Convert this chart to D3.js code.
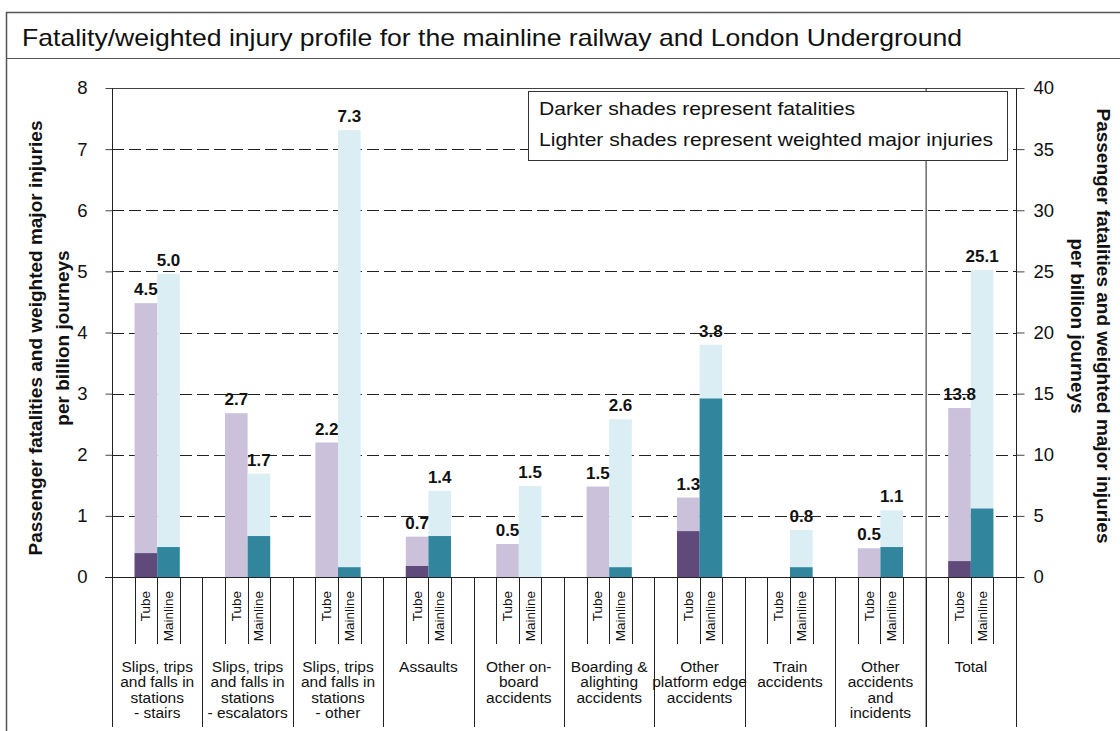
<!DOCTYPE html>
<html><head><meta charset="utf-8">
<script src="https://cdn.jsdelivr.net/npm/d3@7"></script>
<style>body{margin:0;background:#fff}svg{display:block;font-family:"Liberation Sans",Arial,sans-serif}</style>
</head><body><svg id="c" width="1120" height="731"></svg>
<script>
const title = "Fatality/weighted injury profile for the mainline railway and London Underground";
const categories = [
  ["Slips, trips","and falls in","stations","- stairs"],
  ["Slips, trips","and falls in","stations","- escalators"],
  ["Slips, trips","and falls in","stations","- other"],
  ["Assaults"],
  ["Other on-","board","accidents"],
  ["Boarding &","alighting","accidents"],
  ["Other","platform edge","accidents"],
  ["Train","accidents"],
  ["Other","accidents","and","incidents"],
  ["Total"]
];
const modes = ["Tube","Mainline"];
// totals (fatalities + weighted major injuries); Total group is on the right axis
const tubeTotal = [4.48, 2.68, 2.2, 0.66, 0.54, 1.48, 1.3, 0, 0.47, 13.82];
const tubeFatal = [0.39, 0, 0, 0.18, 0, 0, 0.75, 0, 0, 1.3];
const mainTotal = [4.96, 1.69, 7.31, 1.41, 1.49, 2.58, 3.8, 0.77, 1.09, 25.1];
const mainFatal = [0.49, 0.67, 0.16, 0.67, 0, 0.16, 2.92, 0.16, 0.49, 5.6];
const leftTicks = [0,1,2,3,4,5,6,7,8];
const rightTicks = [0,5,10,15,20,25,30,35,40];
const legendLines = ["Darker shades represent fatalities","Lighter shades represent weighted major injuries"];
const yTitleLines = ["Passenger fatalities and weighted major injuries","per billion journeys"];

const colors = {Tube:{dark:"#604a7b",light:"#ccc1da"}, Mainline:{dark:"#31859c",light:"#daeef3"}};

const svg = d3.select("#c");
const L = 112, R = 1016, T = 88, B = 577;
const yL = d3.scaleLinear().domain([0,8]).range([B,T]);
const yR = d3.scaleLinear().domain([0,40]).range([B,T]);
const gIdx = d3.range(categories.length);
const x0 = d3.scaleBand().domain(gIdx).range([L,R]).padding(0);
const x1 = d3.scaleBand().domain(modes).range([0,x0.bandwidth()]).paddingInner(0).paddingOuter(1);

// frame
svg.append("line").attr("x1",6).attr("x2",1120).attr("y1",12.5).attr("y2",12.5).attr("stroke","#555").attr("stroke-width",1.5);
svg.append("line").attr("x1",6).attr("x2",1120).attr("y1",58.5).attr("y2",58.5).attr("stroke","#555").attr("stroke-width",1);
svg.append("line").attr("x1",6.5).attr("x2",6.5).attr("y1",12).attr("y2",731).attr("stroke","#555").attr("stroke-width",1.5);
svg.append("text").attr("x",22).attr("y",46).attr("font-size",24).attr("fill","#111")
  .attr("textLength",940).attr("lengthAdjust","spacingAndGlyphs").text(title);

// gridlines
svg.append("g").selectAll("line").data(leftTicks.filter(d=>d>0 && d<8)).join("line")
  .attr("x1",L).attr("x2",R).attr("y1",d=>Math.round(yL(d))+0.5).attr("y2",d=>Math.round(yL(d))+0.5)
  .attr("stroke","#222").attr("stroke-dasharray","12,5");
svg.append("line").attr("x1",L).attr("x2",R).attr("y1",T+0.5).attr("y2",T+0.5).attr("stroke","#444");

// axes
const axL = svg.append("g").attr("transform",`translate(${L+0.5},0)`)
  .call(d3.axisLeft(yL).tickValues(leftTicks).tickSize(7).tickPadding(18).tickFormat(d3.format("d")));
const axR = svg.append("g").attr("transform",`translate(${R+0.5},0)`)
  .call(d3.axisRight(yR).tickValues(rightTicks).tickSize(8).tickPadding(9).tickFormat(d3.format("d")));
[axL,axR].forEach(a=>{
  a.select(".domain").remove();
  a.selectAll("line").attr("stroke","#444");
  a.selectAll("text").attr("font-size",18.5).attr("fill","#111").attr("font-family","Liberation Sans, Arial, sans-serif");
});

// bars
const barData = [];
gIdx.forEach(i=>{
  const ys = i===categories.length-1 ? yR : yL;
  barData.push({i, mode:"Tube", total:tubeTotal[i], fatal:tubeFatal[i], ys});
  barData.push({i, mode:"Mainline", total:mainTotal[i], fatal:mainFatal[i], ys});
});
const bars = svg.append("g");
bars.selectAll("rect.light").data(barData.filter(d=>d.total>0)).join("rect")
  .attr("x",d=>x0(d.i)+x1(d.mode)).attr("width",x1.bandwidth())
  .attr("y",d=>d.ys(d.total)).attr("height",d=>B-d.ys(d.total))
  .attr("fill",d=>colors[d.mode].light);
bars.selectAll("rect.dark").data(barData.filter(d=>d.fatal>0)).join("rect")
  .attr("x",d=>x0(d.i)+x1(d.mode)).attr("width",x1.bandwidth())
  .attr("y",d=>d.ys(d.fatal)).attr("height",d=>B-d.ys(d.fatal))
  .attr("fill",d=>colors[d.mode].dark);
svg.append("g").selectAll("text").data(barData.filter(d=>d.total>0)).join("text")
  .attr("x",d=>x0(d.i)+x1(d.mode)+x1.bandwidth()/2).attr("y",d=>d.ys(d.total)-8)
  .attr("text-anchor","middle").attr("font-size",17).attr("font-weight","bold").attr("fill","#111")
  .text(d=>d.total.toFixed(1));

// Total separator, axes lines
svg.append("line").attr("x1",x0(9)+0.5).attr("x2",x0(9)+0.5).attr("y1",T).attr("y2",727).attr("stroke","#222");
svg.append("line").attr("x1",L+0.5).attr("x2",L+0.5).attr("y1",T).attr("y2",727).attr("stroke","#222");
svg.append("line").attr("x1",R+0.5).attr("x2",R+0.5).attr("y1",T).attr("y2",727).attr("stroke","#222");
svg.append("line").attr("x1",L-7).attr("x2",R+8).attr("y1",B+0.5).attr("y2",B+0.5).attr("stroke","#222");

// x axis structure
const xg = svg.append("g");
gIdx.forEach(i=>{
  const gx = x0(i);
  xg.append("line").attr("x1",Math.round(gx)+0.5).attr("x2",Math.round(gx)+0.5).attr("y1",B).attr("y2",727).attr("stroke","#222");
  [x1("Tube"), x1("Mainline"), x1("Mainline")+x1.bandwidth()].forEach(o=>{
    const xx = Math.round(gx+o)+0.5;
    xg.append("line").attr("x1",xx).attr("x2",xx).attr("y1",B).attr("y2",644).attr("stroke","#222");
  });
  modes.forEach(m=>{
    const cx = gx + x1(m) + x1.bandwidth()/2;
    xg.append("text").attr("transform",`translate(${cx},591) rotate(-90)`)
      .attr("text-anchor","end").attr("dominant-baseline","central").attr("font-size",13.5).attr("fill","#111").text(m);
  });
  const t = xg.append("text").attr("text-anchor","middle").attr("font-size",15.5).attr("fill","#111");
  categories[i].forEach((ln,k)=>{
    t.append("tspan").attr("x",gx+x0.bandwidth()/2).attr("y",672+k*15.3).text(ln);
  });
});

// legend
const lg = svg.append("g");
lg.append("rect").attr("x",528.5).attr("y",91.5).attr("width",479).attr("height",69).attr("fill","#fff").attr("stroke","#333");
const legendLen = [316, 454];
legendLines.forEach((s,k)=>{
  lg.append("text").attr("x",539).attr("y",115+k*31).attr("font-size",19).attr("fill","#111")
    .attr("textLength",legendLen[k]).attr("lengthAdjust","spacingAndGlyphs").text(s);
});

// axis titles
const lt = svg.append("text").attr("transform","translate(35,338) rotate(-90)").attr("text-anchor","middle")
  .attr("font-size",19).attr("font-weight","bold").attr("fill","#111");
yTitleLines.forEach((s,k)=>lt.append("tspan").attr("x",0).attr("y",k*27).attr("dominant-baseline","central").text(s));
const rt = svg.append("text").attr("transform","translate(1103,326) rotate(90)").attr("text-anchor","middle")
  .attr("font-size",19).attr("font-weight","bold").attr("fill","#111");
yTitleLines.forEach((s,k)=>rt.append("tspan").attr("x",0).attr("y",k*26).attr("dominant-baseline","central").text(s));
</script></body></html>
